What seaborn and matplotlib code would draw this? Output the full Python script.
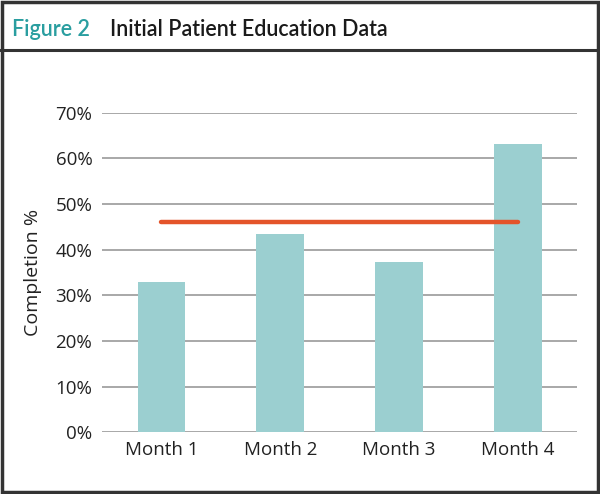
"""Figure 2: initial patient education data."""

import matplotlib.pyplot as plt
import pandas as pd
import seaborn as sns
from matplotlib.lines import Line2D
from matplotlib.patches import Rectangle

months = ["Month 1", "Month 2", "Month 3", "Month 4"]
completion = [33, 43.5, 37.3, 63.2]
target = [46, 46, 46, 46]
y_ticks = [0, 10, 20, 30, 40, 50, 60, 70]

BAR = "#9bcfd0"
LINE = "#e4542a"
TEAL = "#2a9ea0"
GRID = "#9a9a9a"
TEXT = "#222222"

sns.set_theme(style="white")
plt.rcParams["font.family"] = ["Open Sans", "DejaVu Sans"]

df = pd.DataFrame({"month": months, "completion": completion, "target": target})

fig = plt.figure(figsize=(6, 4.94), dpi=100)
ax = fig.add_axes([0.17, 0.125, 0.792, 0.647])

sns.barplot(df, x="month", y="completion", color=BAR, width=0.4,
            saturation=1, linewidth=0, ax=ax, zorder=2)
sns.lineplot(df, x="month", y="target", color=LINE, lw=3.2, ax=ax,
             solid_capstyle="round", zorder=3)

ax.set_xlim(-0.5, 3.5)
ax.set_ylim(0, 70)
ax.set_yticks(y_ticks)
ax.yaxis.set_major_formatter("{x:.0f}%")
ax.yaxis.grid(True, color=GRID, lw=1.2, zorder=0)
ax.set_axisbelow(True)
sns.despine(ax=ax, left=True, bottom=True, top=True, right=True)
ax.tick_params(length=0, labelsize=13.5, colors=TEXT)
ax.tick_params(axis="y", pad=7)
ax.tick_params(axis="x", pad=6)
ax.set_xlabel("")
ax.set_ylabel("Completion %", fontsize=14, color=TEXT, labelpad=10)

# header and frame
fig.text(0.02, 0.94, "Figure 2", color=TEAL, fontsize=15.5, fontweight="semibold",
         va="center", family=["Lato", "DejaVu Sans"])
fig.text(0.183, 0.94, "Initial Patient Education Data", color="#1a1a1a",
         fontsize=15.5, fontweight="semibold", va="center",
         family=["Lato", "DejaVu Sans"])
fig.add_artist(Line2D([0, 1], [0.899, 0.899], color="#333333", lw=2.2,
                      transform=fig.transFigure))
fig.add_artist(Rectangle((0.003, 0.004), 0.994, 0.992, fill=False,
                         edgecolor="#333333", lw=2.5, transform=fig.transFigure))

fig.savefig("out.png", dpi=100)
